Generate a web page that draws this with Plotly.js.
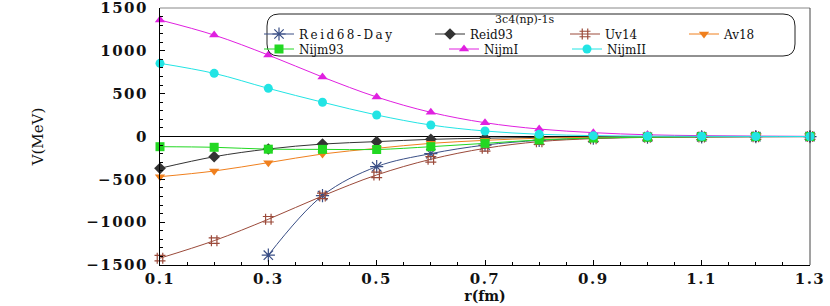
<!DOCTYPE html>
<html><head><meta charset="utf-8">
<script src="https://cdn.plot.ly/plotly-3.0.1.min.js"></script>
<style>html,body{margin:0;padding:0;background:#fff;}#c{width:830px;height:306px;}
text.legendtext{letter-spacing:2.5px;}
#c .ytick text,#c .xtick text{letter-spacing:1.5px;}
</style>
</head><body><div id="c"></div>
<script>
const r = [0.1,0.2,0.3,0.4,0.5,0.6,0.7,0.8,0.9,1.0,1.1,1.2,1.3];
const rReid68 = [0.3,0.4,0.5,0.6,0.7,0.8,0.9,1.0,1.1,1.2,1.3];
const reid68Day = [-1385,-690,-352,-200,-100,-45,-20,-9,-4,-2,-1];
const reid93 = [-371,-236,-146,-88,-60,-33,-20,-10,-5,-3,-2,-1,-1];
const uv14 = [-1420,-1216,-966,-694,-449,-266,-138,-60,-25,-10,-5,-2,-1];
const av18 = [-469,-403,-305,-204,-138,-80,-45,-20,-9,-4,-2,-1,0];
const nijm93 = [-119,-126,-148,-150,-152,-119,-80,-40,-18,-8,-3,-1,0];
const nijmI = [1360,1184,951,694,461,282,161,87,45,20,10,5,2];
const nijmII = [854,737,562,400,251,134,64,26,10,4,2,1,0];
const names = ['Reid68-Day','Reid93','Uv14','Av18','Nijm93','NijmI','NijmII'];
const legendTitle = '3c4(np)-1s';
const colors = ['#3a4f86','#333333','#9b4a3a','#f0801e','#22d822','#e020e0','#22e4e4'];
const symbols = ['asterisk-open','diamond','hash-open','triangle-down','square','triangle-up','circle'];
const xs = [rReid68,r,r,r,r,r,r];
const ys = [reid68Day,reid93,uv14,av18,nijm93,nijmI,nijmII];

const ff = 'DejaVu Serif, Liberation Serif, serif';
const px = v => (v-160)/650, py = v => (265-v)/257;
// legend entry anchor positions (pixels)
const legPos = [[259,34],[430,34],[565,34],[684,34],[259,49],[444,49],[567,49]];
const legIds = ['legend','legend2','legend3','legend4','legend5','legend6','legend7'];

const traces = names.map((n,i)=>{
  const thin = (symbols[i]==='asterisk-open'||symbols[i]==='hash-open');
  return {
    x: xs[i], y: ys[i], name: n, type:'scatter', mode:'lines+markers', legend: legIds[i],
    line:{color:colors[i], width:1, shape:'spline'},
    marker:{color:colors[i], symbol:symbols[i], size: thin?11:9, line:{color:colors[i], width: thin?1.2:0}},
    cliponaxis:false
  };
});

const x0=px(267), x1=px(795), y0=py(56), y1=py(14), rx=12/650, ry=12/257;
const boxPath = `M ${x0+rx},${y1} L ${x1-rx},${y1} Q ${x1},${y1} ${x1},${y1-ry} L ${x1},${y0+ry} Q ${x1},${y0} ${x1-rx},${y0} L ${x0+rx},${y0} Q ${x0},${y0} ${x0},${y0+ry} L ${x0},${y1-ry} Q ${x0},${y1} ${x0+rx},${y1} Z`;

const layout = {
  width:830, height:306,
  margin:{l:160, r:20, t:8, b:41},
  paper_bgcolor:'#fff', plot_bgcolor:'#fff',
  showlegend:true,
  xaxis:{range:[0.1,1.3], tick0:0.1, dtick:0.2, ticks:'inside', ticklen:5, tickcolor:'#000',
    minor:{dtick:0.05, tick0:0.1, ticks:'inside', ticklen:3, tickcolor:'#000'},
    showline:true, linecolor:'#000', linewidth:1, showgrid:false, zeroline:false,
    ticklabeloverflow:'allow',
    tickfont:{family:ff, size:15, color:'#111', weight:'bold'},
    title:{text:'r(fm)', font:{family:ff, size:14, color:'#111', weight:'bold'}, standoff:2}},
  yaxis:{range:[-1500,1500], dtick:500, ticks:'inside', ticklen:5, tickcolor:'#000',
    minor:{dtick:100, ticks:'inside', ticklen:3, tickcolor:'#000'},
    showline:true, linecolor:'#000', linewidth:1, showgrid:false,
    zeroline:true, zerolinecolor:'#000', zerolinewidth:1,
    ticklabeloverflow:'allow', ticklabelstandoff:8,
    tickfont:{family:ff, size:15, color:'#111', weight:'bold'},
    title:{text:'V(MeV)', font:{family:ff, size:15, color:'#111'}, standoff:46}},
  shapes:[
    {type:'line', xref:'paper', yref:'paper', x0:0, x1:1, y0:1, y1:1, line:{color:'#888', width:1}},
    {type:'line', xref:'paper', yref:'paper', x0:1, x1:1, y0:0, y1:1, line:{color:'#444', width:1}},
    {type:'path', xref:'paper', yref:'paper', path:boxPath, line:{color:'#222', width:1}, fillcolor:'rgba(0,0,0,0)'}
  ],
  annotations:[
    {xref:'paper', yref:'paper', x:px(525), y:py(20), text:legendTitle, showarrow:false,
     xanchor:'center', yanchor:'middle', font:{family:ff, size:11, color:'#111'}}
  ]
};
legIds.forEach((id,i)=>{
  layout[id] = {x:px(legPos[i][0]), y:py(legPos[i][1]), xanchor:'left', yanchor:'middle',
    orientation:'v', bgcolor:'rgba(0,0,0,0)', borderwidth:0, itemwidth:30,
    font:{family:ff, size:12, color:'#111'}};
});
Plotly.newPlot('c', traces, layout, {displayModeBar:false, staticPlot:true});
</script>
</body></html>
